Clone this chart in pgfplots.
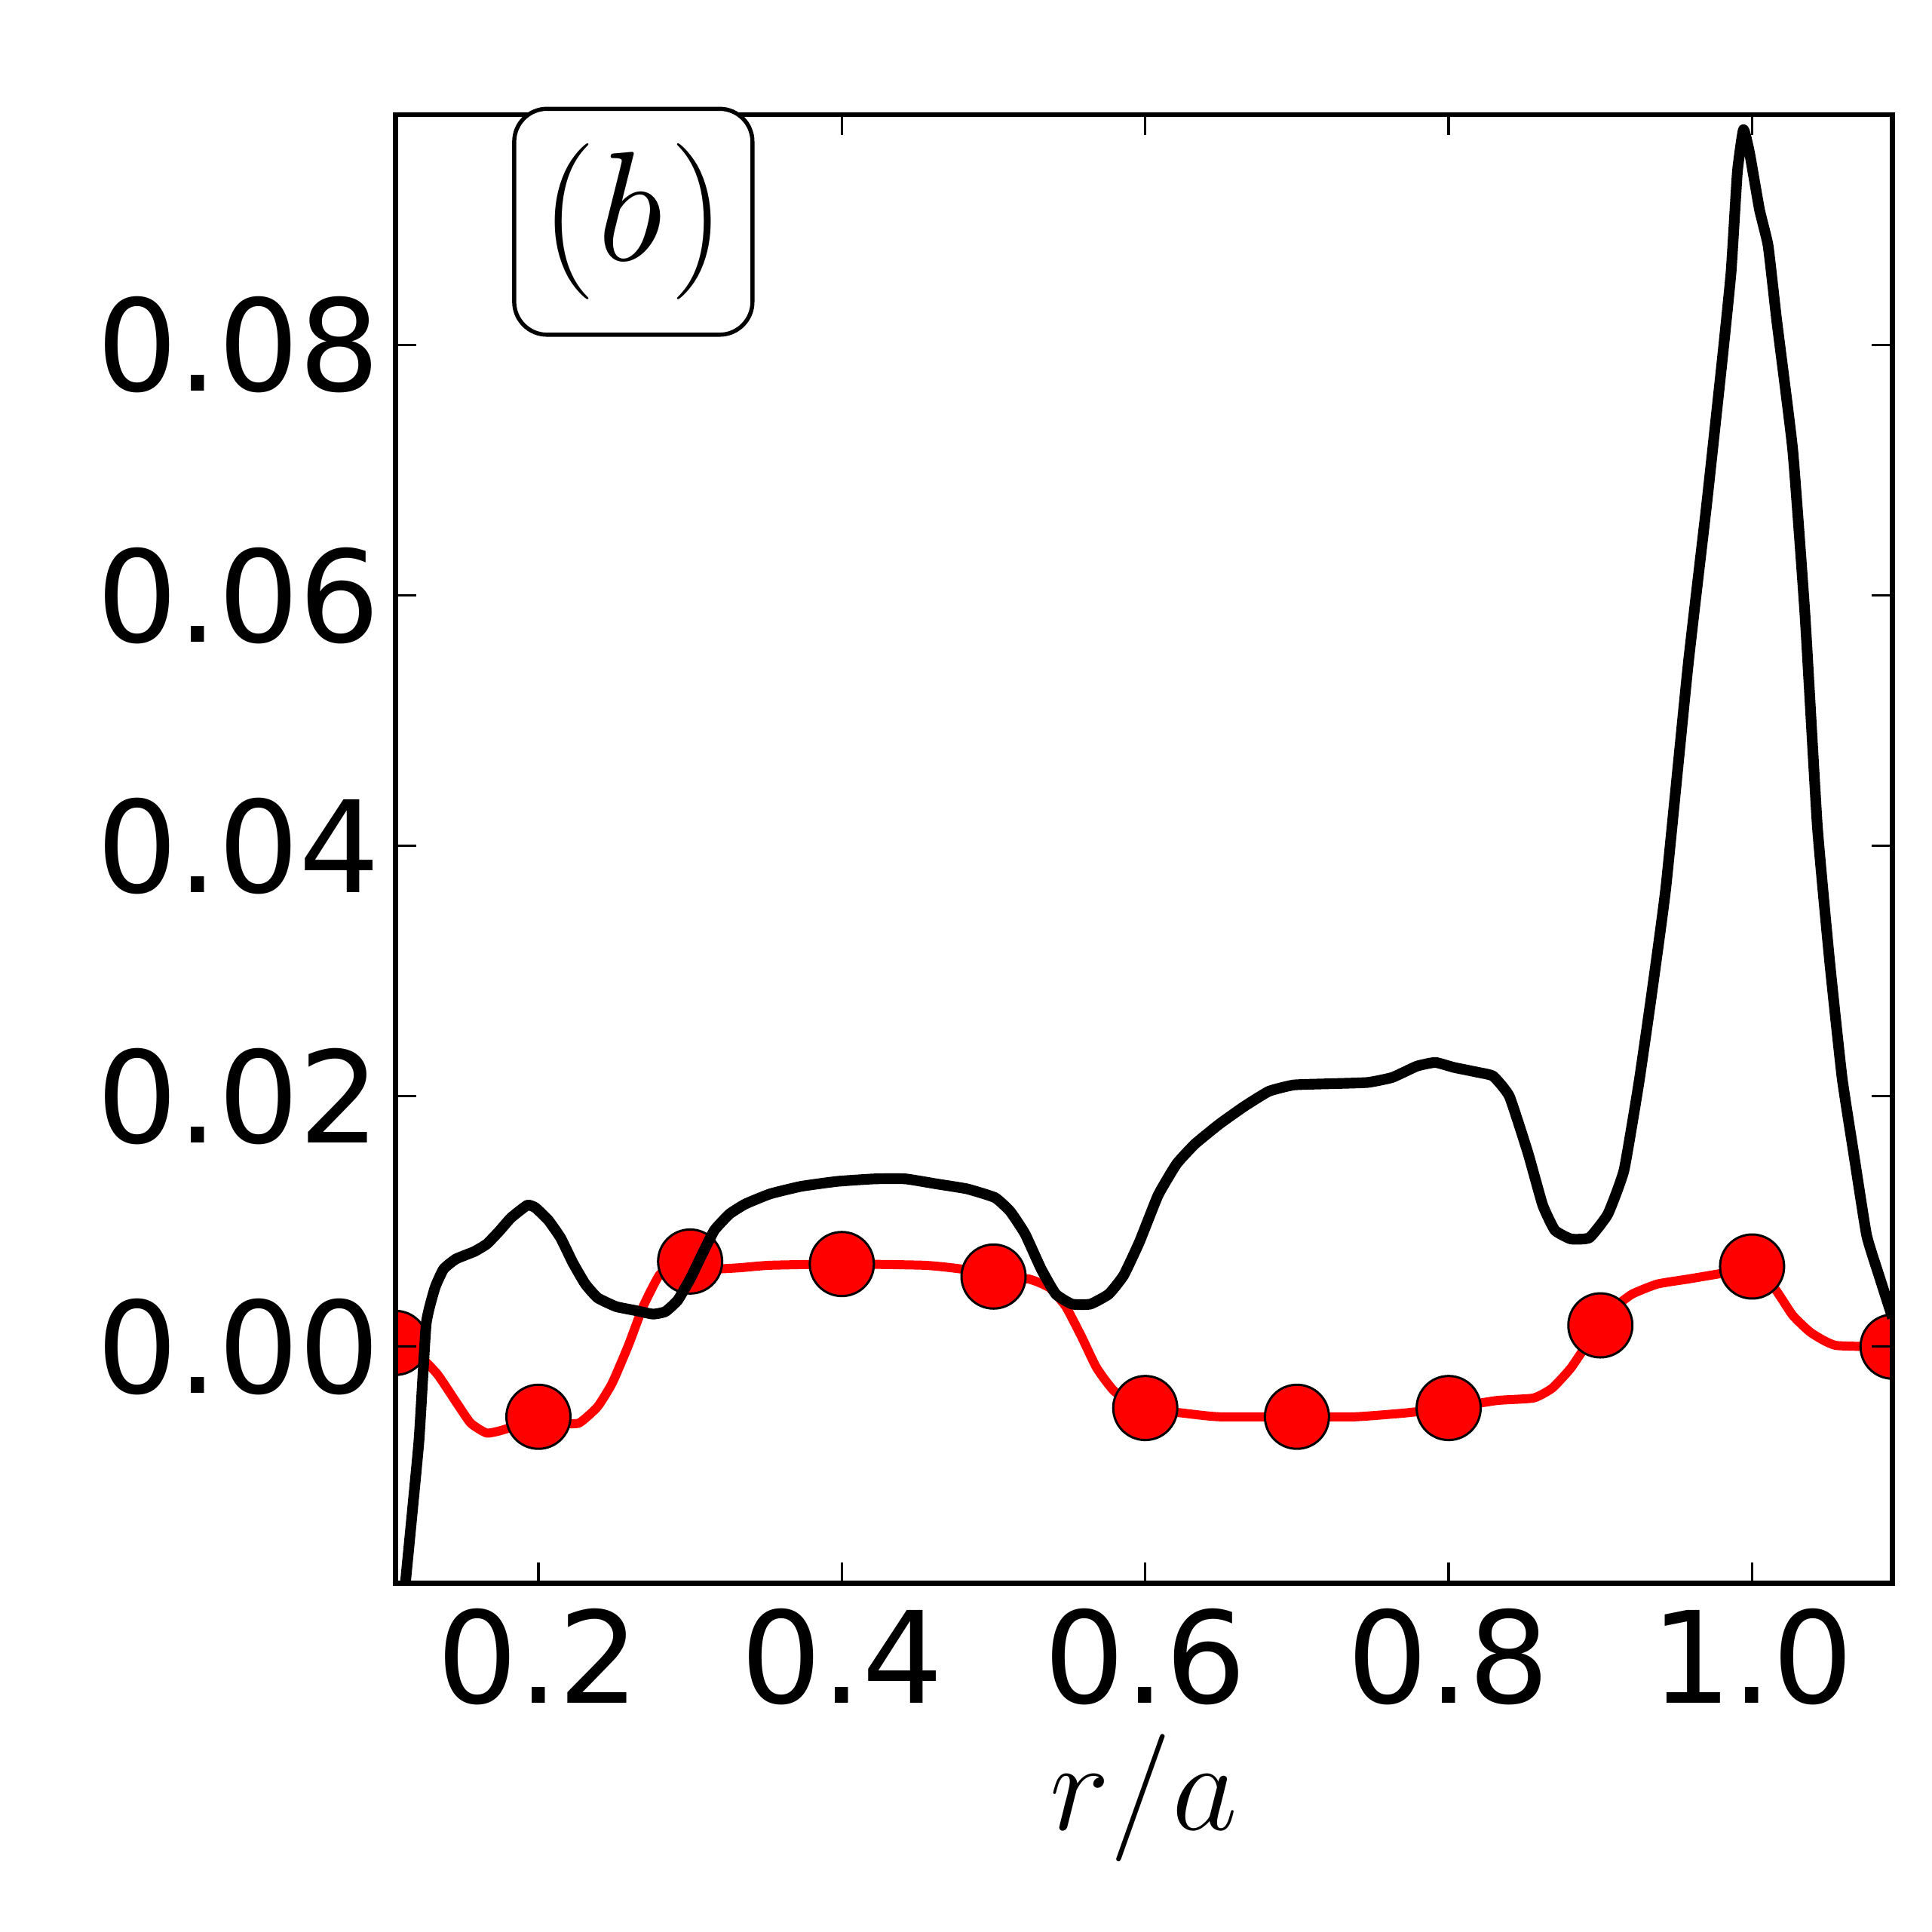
\RequirePackage{fix-cm}
\documentclass[border=0pt]{standalone}
\usepackage[no-math]{fontspec}
\setmainfont{DejaVu Sans}
\usepackage{pgfplots}
\pgfplotsset{compat=1.18}
\usepackage{pgfplotstable}

\pgfplotstableread{
x y
0.1058 -0.0270
0.1123 -0.0189
0.1212 -0.0076
0.1260 0.0018
0.1318 0.0047
0.1375 0.0062
0.1456 0.0070
0.1578 0.0076
0.1660 0.0082
0.1740 0.0092
0.1820 0.0103
0.1927 0.0113
0.1980 0.0111
0.2065 0.0101
0.2146 0.0087
0.2227 0.0067
0.2309 0.0050
0.2390 0.0039
0.2512 0.0032
0.2634 0.0029
0.2755 0.0026
0.2837 0.0028
0.2918 0.0037
0.3000 0.0054
0.3080 0.0074
0.3160 0.0093
0.3260 0.0106
0.3365 0.0114
0.3527 0.0122
0.3730 0.0128
0.3970 0.0132
0.4217 0.0134
0.4420 0.0134
0.4623 0.0130
0.4826 0.0126
0.5010 0.0119
0.5110 0.0108
0.5208 0.0090
0.5314 0.0062
0.5410 0.0042
0.5517 0.0034
0.5639 0.0034
0.5760 0.0042
0.5858 0.0057
0.5963 0.0084
0.6085 0.0121
0.6207 0.0146
0.6329 0.0162
0.6491 0.0178
0.6654 0.0192
0.6816 0.0204
0.6979 0.0209
0.7222 0.0210
0.7466 0.0211
0.7628 0.0215
0.7790 0.0224
0.7912 0.0227
0.8035 0.0223
0.8197 0.0219
0.8294 0.0216
0.8400 0.0200
0.8522 0.0155
0.8620 0.0113
0.8700 0.0093
0.8806 0.0086
0.8928 0.0087
0.9050 0.0106
0.9156 0.0141
0.9253 0.0210
0.9334 0.0278
0.9432 0.0367
0.9578 0.0544
0.9700 0.0672
0.9805 0.0790
0.9862 0.0859
0.9903 0.0938
0.9943 0.0972
0.9984 0.0953
1.0049 0.0908
1.0106 0.0879
1.0162 0.0820
1.0268 0.0716
1.0349 0.0584
1.0430 0.0416
1.0511 0.0308
1.0593 0.0215
1.0674 0.0151
1.0755 0.0089
1.0836 0.0057
1.0926 0.0023
}\blackdata

\pgfplotstableread{
x y
0.1058 0.0003
0.1212 -0.0007
0.1334 -0.0022
0.1456 -0.0044
0.1553 -0.0061
0.1660 -0.0069
0.1780 -0.0066
0.2000 -0.0056
0.2146 -0.0061
0.2268 -0.0061
0.2390 -0.0048
0.2487 -0.0029
0.2593 0.0001
0.2690 0.0032
0.2796 0.0057
0.2902 0.0067
0.3000 0.0068
0.3121 0.0062
0.3324 0.0063
0.3527 0.0065
0.4000 0.0066
0.4542 0.0065
0.4786 0.0062
0.5000 0.0056
0.5233 0.0054
0.5370 0.0047
0.5476 0.0032
0.5580 0.0008
0.5680 -0.0017
0.5800 -0.0036
0.6000 -0.0049
0.6245 -0.0053
0.6487 -0.0056
0.7000 -0.0056
0.7385 -0.0056
0.7710 -0.0053
0.8000 -0.0049
0.8318 -0.0043
0.8560 -0.0041
0.8684 -0.0033
0.8806 -0.0017
0.8928 0.0005
0.9000 0.0017
0.9090 0.0031
0.9210 0.0042
0.9375 0.0050
0.9578 0.0054
0.9820 0.0059
1.0000 0.0064
1.0146 0.0047
1.0268 0.0025
1.0390 0.0011
1.0552 0.0001
1.0926 0.0000
}\reddata

\pgfplotstableread{
x y
0.1058 0.0003
0.2000 -0.0056
0.3000 0.0068
0.4000 0.0066
0.5000 0.0056
0.6000 -0.0049
0.7000 -0.0056
0.8000 -0.0049
0.9000 0.0017
1.0000 0.0064
1.0926 0.0000
}\markdata

\begin{document}
\begin{tikzpicture}
\path[use as bounding box] (-96.3pt,-84.9pt) rectangle (374.1pt,385.5pt);
\begin{axis}[
  at={(0pt,0pt)}, anchor=south west,
  scale only axis,
  width=364.5pt, height=357.6pt,
  xmin=0.1058, xmax=1.0926,
  ymin=-0.0189, ymax=0.0984,
  xtick={0.2,0.4,0.6,0.8,1.0},
  ytick={0,0.02,0.04,0.06,0.08},
  scaled x ticks=false,
  scaled y ticks=false,
  xticklabel style={/pgf/number format/.cd,fixed,fixed zerofill,precision=1,/tikz/.cd, inner sep=0pt, yshift=-6pt},
  yticklabel style={/pgf/number format/.cd,fixed,fixed zerofill,precision=2,/tikz/.cd, inner sep=0pt, xshift=-3.5pt},
  /pgf/number format/assume math mode=true,
  ticklabel style={font=\fontsize{31}{37}\selectfont},
  tick align=inside,
  major tick length=5pt,
  every tick/.style={black, line width=0.6pt},
  axis line style={line width=1.2pt},
  axis on top,
  clip marker paths=true,
  xlabel={$r/a$},
  xlabel style={at={(axis description cs:0.5,0)}, anchor=base, yshift=-60pt, inner sep=0pt, font=\fontsize{31}{37}\selectfont},
]
\addplot[red, line width=2.2pt, line join=round, smooth, tension=0.3] table[x=x,y=y] {\reddata};
\addplot[only marks, mark=*, mark size=7.8pt, mark options={fill=red, draw=black, line width=0.55pt}] table[x=x,y=y] {\markdata};
\addplot[black, line width=2.6pt, line join=round, smooth, tension=0.25] table[x=x,y=y] {\blackdata};
\end{axis}
\node[draw, line width=1pt, rounded corners=8pt, minimum width=58pt, minimum height=55pt, inner sep=0pt, fill=white, font=\fontsize{38}{40}\selectfont] at (57.9pt,331.5pt) {$(\kern0.3pt b\kern1.8pt)$};
\end{tikzpicture}
\end{document}
